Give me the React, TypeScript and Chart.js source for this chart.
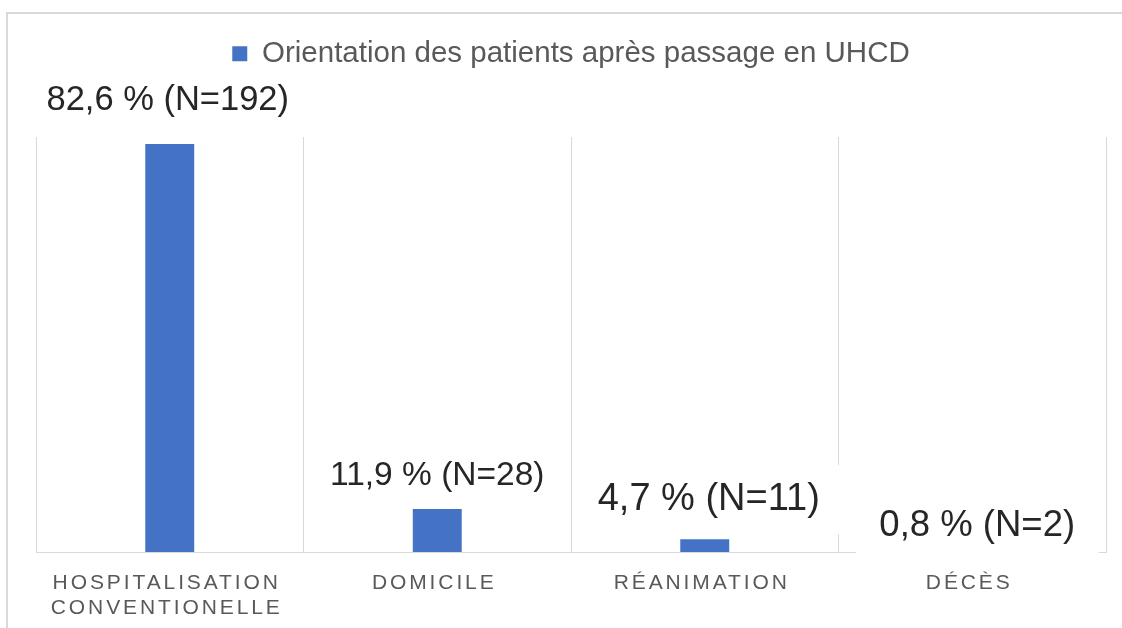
import React, { useEffect, useRef } from "react";
import { Chart, registerables } from "chart.js";

Chart.register(...registerables);

// ---- data ----
const categories: string[][] = [
  ["HOSPITALISATION", "CONVENTIONELLE"],
  ["DOMICILE"],
  ["RÉANIMATION"],
  ["DÉCÈS"],
];
const seriesName = "Orientation des patients après passage en UHCD";
// bar heights
const barValues = [82.6, 8.7, 2.6, 0];
const percentLabels = ["82,6 %", "11,9 %", "4,7 %", "0,8 %"];
const countLabels = ["N=192", "N=28", "N=11", "N=2"];

const FONT = "'Liberation Sans', Arial, Helvetica, sans-serif";

const annotatePlugin = {
  id: "annotate",
  beforeLayout(chart: any) {
    const lg = chart.legend;
    if (lg && !lg._patched) {
      const orig = lg.fit.bind(lg);
      lg.fit = function () {
        orig();
        this.height = 108;
      };
      lg._patched = true;
    }
  },
  beforeDraw(chart: any) {
    const { ctx, width, height } = chart;
    ctx.save();
    ctx.fillStyle = "#ffffff";
    ctx.fillRect(0, 0, width, height);
    ctx.strokeStyle = "#D9D9D9";
    ctx.lineWidth = 2;
    ctx.strokeRect(7, 13, width + 100, height + 100);
    ctx.restore();
  },
  beforeDatasetsDraw(chart: any, _args: any, opts: any) {
    const { ctx, chartArea } = chart;
    const meta = chart.getDatasetMeta(0);
    ctx.save();
    ctx.beginPath();
    ctx.rect(chartArea.left - 2, chartArea.top, chartArea.right - chartArea.left + 4, chartArea.bottom - chartArea.top + 3);
    ctx.clip();
    ctx.fillStyle = "#ffffff";
    meta.data.forEach((bar: any, i: number) => {
      const text = `${percentLabels[i]} (${countLabels[i]})`;
      ctx.font = `${opts.sizes[i]}px ${FONT}`;
      const w = ctx.measureText(text).width;
      const cy = bar.y - opts.lifts[i];
      ctx.fillRect(bar.x + opts.shifts[i] - w / 2 - 23.5, cy - 31, w + 47, 69);
    });
    ctx.restore();
  },
  afterDatasetsDraw(chart: any, _args: any, opts: any) {
    const { ctx } = chart;
    const meta = chart.getDatasetMeta(0);
    ctx.save();
    ctx.fillStyle = "#262626";
    ctx.textAlign = "center";
    ctx.textBaseline = "alphabetic";
    meta.data.forEach((bar: any, i: number) => {
      const size = opts.sizes[i];
      const text = `${percentLabels[i]} (${countLabels[i]})`;
      ctx.font = `${size}px ${FONT}`;
      const cy = bar.y - opts.lifts[i];
      ctx.fillText(text, bar.x + opts.shifts[i], cy + 0.358 * size);
    });
    ctx.restore();
  },
  afterDraw(chart: any) {
    const { ctx, chartArea } = chart;
    const xs = chart.scales.x;
    ctx.save();
    ctx.fillStyle = "#595959";
    ctx.font = `21px ${FONT}`;
    ctx.textAlign = "center";
    ctx.textBaseline = "alphabetic";
    (ctx as any).letterSpacing = "2.9px";
    categories.forEach((lines, i) => {
      const x = xs.getPixelForValue(i) - 3;
      lines.forEach((line, j) => {
        ctx.fillText(line, x, chartArea.bottom + 37 + j * 24.5);
      });
    });
    ctx.restore();
  },
};

export default function App() {
  const ref = useRef<HTMLCanvasElement | null>(null);

  useEffect(() => {
    if (!ref.current) return;
    const chart = new Chart(ref.current, {
      type: "bar",
      data: {
        labels: categories,
        datasets: [
          {
            label: seriesName,
            data: barValues,
            backgroundColor: "#4472C4",
            borderWidth: 0,
            barPercentage: 0.183,
            categoryPercentage: 1,
          },
        ],
      },
      options: {
        responsive: false,
        animation: false,
        devicePixelRatio: 1,
        layout: { padding: { top: 29, left: 36, right: 16, bottom: 76 } },
        plugins: {
          legend: {
            display: true,
            position: "top",
            labels: {
              boxWidth: 15,
              boxHeight: 15,
              padding: 10,
              color: "#595959",
              font: { size: 29.5, family: FONT },
            },
          },
          tooltip: { enabled: false },
          annotate: {
            sizes: [34.5, 33.5, 38, 36.5],
            lifts: [46.5, 36, 43, 29.5],
            shifts: [-2, 0, 4, 5],
          },
        } as any,
        scales: {
          x: {
            grid: { color: "#D9D9D9", lineWidth: 1, drawTicks: false, offset: true },
            border: { color: "#D9D9D9", width: 1 },
            ticks: { display: false },
          },
          y: { display: false, min: 0, max: 84 },
        },
      },
      plugins: [annotatePlugin],
    });
    return () => chart.destroy();
  }, []);

  return (
    <div style={{ position: "fixed", left: 0, top: 0, width: 1122, height: 628, overflow: "hidden", background: "#fff" }}>
      <canvas ref={ref} width={1122} height={628} style={{ display: "block", width: 1122, height: 628 }} />
    </div>
  );
}
